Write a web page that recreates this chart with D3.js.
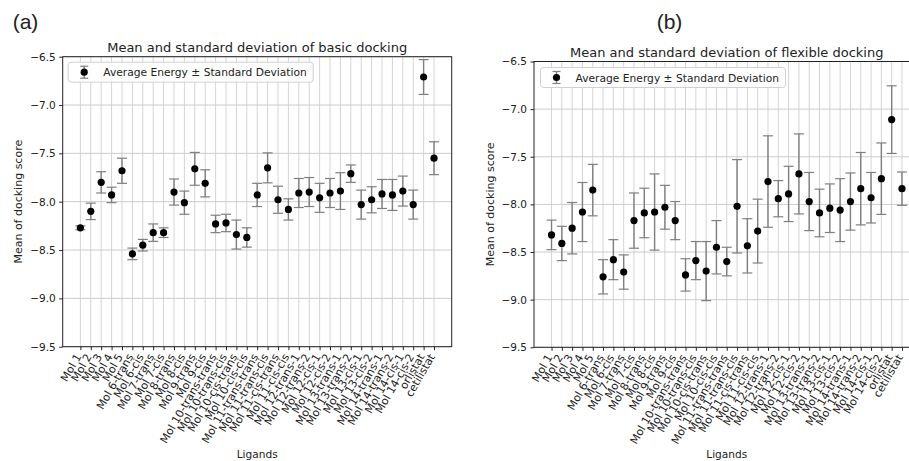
<!DOCTYPE html>
<html>
<head>
<meta charset="utf-8">
<script src="https://cdn.jsdelivr.net/npm/d3@7"></script>
<style>
  body { margin: 0; background: #fff; }
  svg { display: block; }
  text { font-family: "DejaVu Sans", sans-serif; fill: #222; }
</style>
</head>
<body>
<div id="chart"></div>
<script>
// categories on the x axis
var ligands = ["Mol 1", "Mol 2", "Mol 3", "Mol 4", "Mol 5",
  "Mol 6-trans", "Mol 6-cis", "Mol 7-trans", "Mol 7-cis", "Mol 8-trans", "Mol 8-cis",
  "Mol 9-trans", "Mol 9-cis",
  "Mol 10-trans-trans", "Mol 10-trans-cis", "Mol 10-cis-trans", "Mol 10-cis-cis",
  "Mol 11-trans-trans", "Mol 11-trans-cis", "Mol 11-cis-trans", "Mol 11-cis-cis",
  "Mol 12-trans-1", "Mol 12-trans-2", "Mol 12-cis-1", "Mol 12-cis-2",
  "Mol 13-trans-1", "Mol 13-trans-2", "Mol 13-cis-1", "Mol 13-cis-2",
  "Mol 14-trans-1", "Mol 14-trans-2", "Mol 14-cis-1", "Mol 14-cis-2",
  "orlistat", "cetilistat"];

// (a) basic docking
var basicMean = [-8.27, -8.10, -7.80, -7.93, -7.68, -8.54, -8.45, -8.32, -8.32, -7.90, -8.01,
  -7.66, -7.81, -8.23, -8.22, -8.34, -8.37, -7.93, -7.65, -7.98, -8.08,
  -7.91, -7.90, -7.96, -7.91, -7.89, -7.71, -8.03, -7.98, -7.92, -7.93, -7.89, -8.03,
  -6.71, -7.55];
var basicSd = [0.02, 0.085, 0.11, 0.08, 0.13, 0.06, 0.06, 0.09, 0.05, 0.135, 0.12,
  0.17, 0.14, 0.09, 0.09, 0.15, 0.10, 0.12, 0.155, 0.14, 0.11,
  0.15, 0.15, 0.15, 0.15, 0.19, 0.09, 0.15, 0.135, 0.15, 0.16, 0.155, 0.15,
  0.18, 0.17];

// (b) flexible docking
var flexMean = [-8.32, -8.41, -8.25, -8.08, -7.85, -8.76, -8.58, -8.71, -8.17, -8.09, -8.08,
  -8.03, -8.17, -8.74, -8.59, -8.70, -8.45, -8.60, -8.02, -8.435, -8.28,
  -7.76, -7.94, -7.89, -7.68, -7.97, -8.09, -8.04, -8.06, -7.97, -7.835, -7.93, -7.73,
  -7.11, -7.835];
var flexSd = [0.155, 0.18, 0.27, 0.31, 0.27, 0.18, 0.21, 0.18, 0.29, 0.26, 0.40,
  0.23, 0.20, 0.17, 0.20, 0.31, 0.28, 0.15, 0.49, 0.285, 0.335,
  0.48, 0.19, 0.29, 0.42, 0.305, 0.25, 0.255, 0.33, 0.30, 0.38, 0.265, 0.375,
  0.355, 0.175];

var yTicks = [-9.5, -9.0, -8.5, -8.0, -7.5, -7.0, -6.5];

var svg = d3.select("#chart")
  .append("svg")
    .attr("width", 909)
    .attr("height", 461);

function drawPanel(p) {
  var width = p.right - p.left,
      height = p.bottom - p.top;

  var g = svg.append("g")
    .attr("transform", "translate(" + p.left + "," + p.top + ")");

  var xScale = d3.scalePoint()
    .domain(ligands)
    .range([0, width])
    .padding(1.7);

  var yScale = d3.scaleLinear()
    .domain([-9.5, -6.5])
    .range([height, 0]);

  var rows = ligands.map(function(d, i) {
    return {name: d, mean: p.mean[i], sd: p.sd[i]};
  });

  // grid
  g.selectAll(".vgrid")
    .data(ligands)
    .enter()
    .append("line")
      .attr("x1", function(d) { return xScale(d); })
      .attr("x2", function(d) { return xScale(d); })
      .attr("y1", 0)
      .attr("y2", height)
      .style("stroke", "#d4d4d4")
      .style("stroke-width", 1);
  g.selectAll(".hgrid")
    .data(yTicks)
    .enter()
    .append("line")
      .attr("x1", 0)
      .attr("x2", width)
      .attr("y1", function(d) { return yScale(d); })
      .attr("y2", function(d) { return yScale(d); })
      .style("stroke", "#cccccc")
      .style("stroke-width", 1);

  // error bars
  var eb = g.selectAll(".err")
    .data(rows)
    .enter()
    .append("g");
  eb.append("line")
    .attr("x1", function(d) { return xScale(d.name); })
    .attr("x2", function(d) { return xScale(d.name); })
    .attr("y1", function(d) { return yScale(d.mean + d.sd); })
    .attr("y2", function(d) { return yScale(d.mean - d.sd); })
    .style("stroke", "#7f7f7f")
    .style("stroke-width", 1.4);
  [1, -1].forEach(function(s) {
    eb.append("line")
      .attr("x1", function(d) { return xScale(d.name) - 5; })
      .attr("x2", function(d) { return xScale(d.name) + 5; })
      .attr("y1", function(d) { return yScale(d.mean + s * d.sd); })
      .attr("y2", function(d) { return yScale(d.mean + s * d.sd); })
      .style("stroke", "#7f7f7f")
      .style("stroke-width", 1.2);
  });

  // points
  g.selectAll(".dot")
    .data(rows)
    .enter()
    .append("circle")
      .attr("cx", function(d) { return xScale(d.name); })
      .attr("cy", function(d) { return yScale(d.mean); })
      .attr("r", 3.6)
      .attr("fill", "#000");

  // axes
  var yAxis = g.append("g")
    .call(d3.axisLeft(yScale).tickValues(yTicks).tickFormat(d3.format(".1f")).tickSize(3.5).tickPadding(3.5));
  var xAxis = g.append("g")
    .attr("transform", "translate(0," + height + ")")
    .call(d3.axisBottom(xScale).tickSize(3.5).tickFormat(""));
  [yAxis, xAxis].forEach(function(a) {
    a.select(".domain").remove();
    a.selectAll("line").style("stroke", "#222");
    a.selectAll("text").style("font-size", "10.5px").style("font-family", "DejaVu Sans").attr("fill", "#222");
  });

  // spines
  g.append("rect")
    .attr("x", 0)
    .attr("y", 0)
    .attr("width", width)
    .attr("height", height)
    .attr("fill", "none")
    .style("stroke", "#222")
    .style("stroke-width", 1);

  // rotated tick labels
  g.selectAll(".xlab")
    .data(ligands)
    .enter()
    .append("text")
      .attr("transform", function(d) {
        return "translate(" + (xScale(d) - 2) + "," + (height + 8) + ")rotate(-60)";
      })
      .attr("dy", "0.35em")
      .style("text-anchor", "end")
      .style("font-size", "11px")
      .text(function(d) { return d; });

  // legend
  var lg = g.append("g")
    .attr("transform", "translate(" + p.legendDx + "," + p.legendDy + ")");
  lg.append("rect")
    .attr("width", 245)
    .attr("height", 20)
    .attr("rx", 3)
    .attr("fill", "#fff")
    .attr("fill-opacity", 0.9)
    .style("stroke", "#d0d0d0");
  lg.append("line")
    .attr("x1", 16).attr("x2", 16).attr("y1", 4).attr("y2", 16)
    .style("stroke", "#7f7f7f").style("stroke-width", 1.4);
  [4, 16].forEach(function(y) {
    lg.append("line")
      .attr("x1", 12).attr("x2", 20).attr("y1", y).attr("y2", y)
      .style("stroke", "#7f7f7f").style("stroke-width", 1.2);
  });
  lg.append("circle").attr("cx", 16).attr("cy", 10).attr("r", 3.6).attr("fill", "#000");
  lg.append("text")
    .attr("x", 35)
    .attr("y", 14)
    .style("font-size", "10.7px")
    .text("Average Energy \u00b1 Standard Deviation");

  // title
  g.append("text")
    .attr("x", width / 2)
    .attr("y", -5)
    .style("text-anchor", "middle")
    .style("font-size", "13px")
    .text(p.title);

  // y label
  g.append("text")
    .attr("transform", "rotate(-90)")
    .attr("x", -height / 2)
    .attr("y", p.ylabX - p.left)
    .style("text-anchor", "middle")
    .style("font-size", "11px")
    .text("Mean of docking score");

  // x label
  g.append("text")
    .attr("x", width / 2)
    .attr("y", 458 - p.top)
    .style("text-anchor", "middle")
    .style("font-size", "10.6px")
    .text("Ligands");

  // panel letter
  svg.append("text")
    .attr("x", p.letterX)
    .attr("y", 29)
    .style("text-anchor", "middle")
    .style("font-family", "Liberation Sans, Arial, sans-serif")
    .style("font-size", "21px")
    .text(p.letter);
}

drawPanel({left: 62.7, right: 451.7, top: 56.7, bottom: 346.7,
  title: "Mean and standard deviation of basic docking", letter: "(a)", letterX: 25.5,
  mean: basicMean, sd: basicSd, legendDx: 5.5, legendDy: 5.5, ylabX: 22});

drawPanel({left: 534, right: 919.5, top: 61.5, bottom: 347.3,
  title: "Mean and standard deviation of flexible docking", letter: "(b)", letterX: 669.5,
  mean: flexMean, sd: flexSd, legendDx: 6.5, legendDy: 6, ylabX: 494});
</script>
</body>
</html>
